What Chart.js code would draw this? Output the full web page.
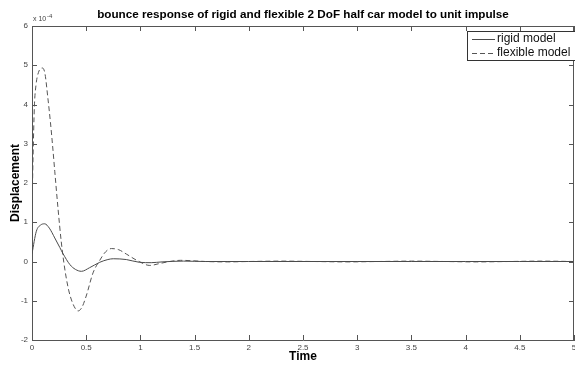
<!DOCTYPE html>
<html>
<head>
<meta charset="utf-8">
<script src="https://cdn.jsdelivr.net/npm/chart.js@4/dist/chart.umd.min.js"></script>
<style>
html,body{margin:0;padding:0;background:#fff;}
#wrap{width:575px;height:365px;}
</style>
</head>
<body>
<div id="wrap"><canvas id="c" width="575" height="365"></canvas></div>
<script>
// ---- data (displacement in units of 1e-4) ----
const chartTitle = "bounce response of rigid and flexible 2 DoF half car model to unit impulse";
const xLabel = "Time";
const yLabel = "Displacement";
const seriesNames = ["rigid model", "flexible model"];
const xTicks = [0, 0.5, 1, 1.5, 2, 2.5, 3, 3.5, 4, 4.5, 5];
const yTicks = [-2, -1, 0, 1, 2, 3, 4, 5, 6];

const rigidTime  = [0, 0.04, 0.08, 0.117, 0.16, 0.21, 0.256, 0.286, 0.35, 0.40, 0.456, 0.53, 0.625, 0.70, 0.75, 0.87, 0.99, 1.10, 1.20, 1.40, 1.60, 1.80, 2.0, 2.5, 3.0, 3.5, 4.0, 4.5, 5.0];
const rigidDisp  = [0.2, 0.77, 0.93, 0.96, 0.85, 0.6, 0.36, 0.2, -0.08, -0.2, -0.25, -0.16, -0.02, 0.05, 0.07, 0.05, -0.02, -0.03, -0.01, 0.01, 0.0, 0.0, 0.0, 0.0, 0.0, 0.0, 0.0, 0.0, 0.0];

const flexTime = [0, 0.01, 0.022, 0.037, 0.06, 0.097, 0.12, 0.145, 0.17, 0.19, 0.21, 0.24, 0.27, 0.295, 0.318, 0.34, 0.364, 0.40, 0.425, 0.46, 0.50, 0.563, 0.625, 0.68, 0.733, 0.80, 0.87, 0.98, 1.087, 1.18, 1.27, 1.37, 1.47, 1.60, 1.80, 2.0, 2.3, 2.6, 2.9, 3.2, 3.5, 3.8, 4.1, 4.4, 4.7, 5.0];
const flexDisp = [1.3, 2.7, 3.95, 4.5, 4.82, 4.93, 4.78, 4.2, 3.55, 2.95, 2.3, 1.35, 0.5, -0.05, -0.45, -0.75, -0.98, -1.2, -1.26, -1.17, -0.88, -0.29, 0.03, 0.25, 0.33, 0.3, 0.19, 0.01, -0.1, -0.05, 0.0, 0.03, 0.02, 0.0, -0.01, 0.0, 0.01, 0.0, -0.01, 0.0, 0.01, 0.0, -0.01, 0.0, 0.01, 0.0];

const FONT = "'Liberation Sans', Arial, sans-serif";

function pts(ts, vs){ return ts.map((t,i)=>({x:t, y:vs[i]})); }

const decorPlugin = {
  id: 'decor',
  afterDraw(chart){
    const ctx = chart.ctx, a = chart.chartArea;
    const xs = chart.scales.x, ys = chart.scales.y;
    ctx.save();
    // box top & right
    ctx.strokeStyle = '#555';
    ctx.lineWidth = 1;
    ctx.beginPath();
    ctx.moveTo(a.left, a.top + 0.5); ctx.lineTo(a.right, a.top + 0.5);
    ctx.moveTo(a.right - 0.5, a.top); ctx.lineTo(a.right - 0.5, a.bottom);
    ctx.stroke();
    // inward ticks
    ctx.beginPath();
    const tl = 5;
    xTicks.forEach(v => {
      const px = Math.round(xs.getPixelForValue(v)) + 0.5;
      ctx.moveTo(px, a.bottom); ctx.lineTo(px, a.bottom - tl);
      ctx.moveTo(px, a.top); ctx.lineTo(px, a.top + tl);
    });
    yTicks.forEach(v => {
      const py = Math.round(ys.getPixelForValue(v)) + 0.5;
      ctx.moveTo(a.left, py); ctx.lineTo(a.left + tl, py);
      ctx.moveTo(a.right, py); ctx.lineTo(a.right - tl, py);
    });
    ctx.stroke();
    // title
    ctx.fillStyle = '#000';
    ctx.textAlign = 'center';
    ctx.textBaseline = 'middle';
    ctx.font = 'bold 11.7px ' + FONT;
    ctx.fillText(chartTitle, (a.left + a.right) / 2, 15);
    // x label
    ctx.font = 'bold 12px ' + FONT;
    ctx.fillText(xLabel, (a.left + a.right) / 2, 357);
    // y label
    ctx.save();
    ctx.translate(16, (a.top + a.bottom) / 2);
    ctx.rotate(-Math.PI / 2);
    ctx.fillText(yLabel, 0, 0);
    ctx.restore();
    // exponent
    ctx.fillStyle = '#444';
    ctx.textAlign = 'left';
    ctx.font = '7px ' + FONT;
    ctx.fillText('x 10', a.left + 1, 19);
    ctx.font = '6px ' + FONT;
    ctx.fillText('-4', a.left + 15, 16);
    // legend
    const lx = 467.5, ly = 31.5, lw = 120, lh = 29;
    ctx.fillStyle = '#fff';
    ctx.fillRect(lx, ly, lw, lh);
    ctx.strokeStyle = '#333';
    ctx.strokeRect(lx, ly, lw, lh);
    ctx.font = '12px ' + FONT;
    ctx.fillStyle = '#111';
    chart.data.datasets.forEach((ds, i) => {
      const yy = 39 + i * 14;
      ctx.strokeStyle = ds.borderColor;
      ctx.lineWidth = 1;
      ctx.setLineDash(ds.borderDash || []);
      ctx.beginPath();
      ctx.moveTo(472, yy + 0.5); ctx.lineTo(495, yy + 0.5);
      ctx.stroke();
      ctx.setLineDash([]);
      ctx.fillText(ds.label, 497, yy);
    });
    ctx.restore();
  }
};

new Chart(document.getElementById('c'), {
  type: 'line',
  data: {
    datasets: [
      { label: seriesNames[0], data: pts(rigidTime, rigidDisp), borderColor: '#4a4a4a', borderWidth: 1, pointRadius: 0, cubicInterpolationMode: 'monotone', fill: false },
      { label: seriesNames[1], data: pts(flexTime, flexDisp), borderColor: '#555', borderWidth: 1, borderDash: [5, 3], pointRadius: 0, cubicInterpolationMode: 'monotone', fill: false }
    ]
  },
  options: {
    responsive: false,
    animation: false,
    layout: { padding: { left: 0, right: 1, top: 26, bottom: 0 } },
    plugins: { legend: { display: false }, title: { display: false }, tooltip: { enabled: false } },
    scales: {
      x: {
        type: 'linear', min: 0, max: 5,
        afterBuildTicks(s){ s.ticks = xTicks.map(v => ({value: v})); },
        ticks: { autoSkip: false, maxRotation: 0, font: { size: 8, family: FONT }, color: '#444', padding: 3, callback: v => String(v) },
        grid: { drawOnChartArea: false, drawTicks: false },
        border: { color: '#555', width: 1 },
        afterFit(s){ s.height = 25; s.paddingLeft = 0; s.paddingRight = 0; }
      },
      y: {
        type: 'linear', min: -2, max: 6,
        afterBuildTicks(s){ s.ticks = yTicks.map(v => ({value: v})); },
        ticks: { autoSkip: false, font: { size: 8, family: FONT }, color: '#444', padding: 4, callback: v => String(v) },
        grid: { drawOnChartArea: false, drawTicks: false },
        border: { color: '#555', width: 1 },
        afterFit(s){ s.width = 32; s.paddingTop = 0; s.paddingBottom = 0; }
      }
    }
  },
  plugins: [decorPlugin]
});
</script>
</body>
</html>
